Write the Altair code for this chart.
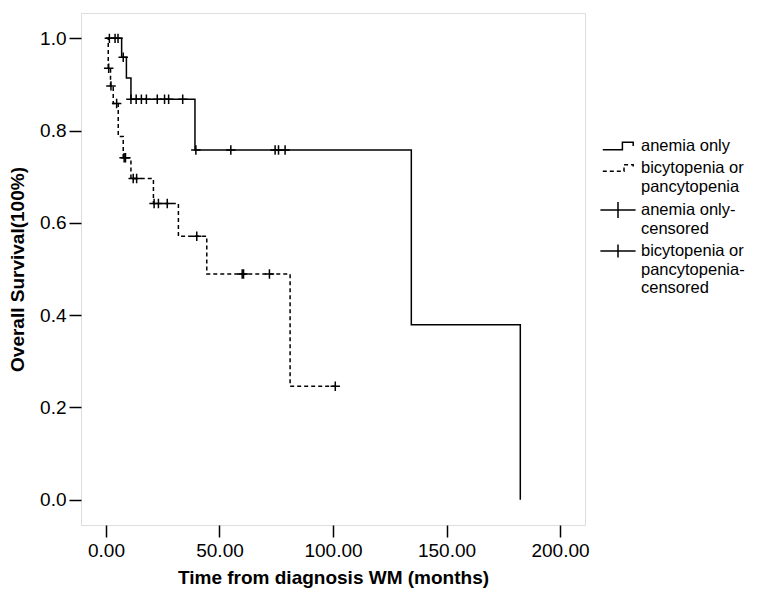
import altair as alt
import pandas as pd

# Kaplan-Meier step curves (time in months, overall survival)
anemia_t = [0, 6.9, 9.0, 11.0, 39.2, 134.5, 182.5]
anemia_s = [1.0, 0.959, 0.914, 0.868, 0.758, 0.379, 0.0]
bicyt_t = [0, 1.0, 2.0, 3.2, 5.4, 7.6, 11.0, 20.9, 31.9, 44.4, 81.1, 101.0]
bicyt_s = [1.0, 0.935, 0.897, 0.859, 0.787, 0.741, 0.696, 0.642, 0.571, 0.489, 0.246, 0.246]

# censored observations
anemia_cens_t = [1.5, 4.0, 5.3, 7.6, 11.0, 13.3, 15.6, 17.8, 22.6, 25.8, 27.6, 33.8,
                 39.6, 55.0, 74.5, 76.0, 78.9]
anemia_cens_s = [1.0, 1.0, 1.0, 0.959, 0.868, 0.868, 0.868, 0.868, 0.868, 0.868, 0.868, 0.868,
                 0.758, 0.758, 0.758, 0.758, 0.758]
bicyt_cens_t = [1.2, 2.2, 4.7, 8.0, 8.6, 12.0, 13.5, 21.2, 23.1, 27.0, 40.0, 60.0, 60.6, 72.0, 101.0]
bicyt_cens_s = [0.935, 0.897, 0.859, 0.741, 0.741, 0.696, 0.696, 0.642, 0.642, 0.642, 0.571,
                0.489, 0.489, 0.489, 0.246]

legend_names = ["anemia only", "bicytopenia or|pancytopenia", "anemia only-|censored",
                "bicytopenia or|pancytopenia-|censored"]
x_ticks = [0, 50, 100, 150, 200]
y_ticks = [0.0, 0.2, 0.4, 0.6, 0.8, 1.0]

FONT = "Liberation Sans"

anemia_df = pd.DataFrame({"t": anemia_t, "s": anemia_s})
bicyt_df = pd.DataFrame({"t": bicyt_t, "s": bicyt_s})
anemia_c = pd.DataFrame({"t": anemia_cens_t, "s": anemia_cens_s})
bicyt_c = pd.DataFrame({"t": bicyt_cens_t, "s": bicyt_cens_s})
legend_df = pd.DataFrame({"series": legend_names})

xscale = alt.Scale(domain=[-11, 211], nice=False, zero=False)
yscale = alt.Scale(domain=[-0.055, 1.055], nice=False, zero=False)

xaxis = alt.Axis(values=x_ticks, format=".2f", title="Time from diagnosis WM (months)",
                 grid=False, domain=False, tickSize=12, tickWidth=1.5, tickColor="black",
                 labelFont=FONT, labelFontSize=19, labelColor="black", labelPadding=4,
                 labelFlush=False, titleFont=FONT, titleFontSize=19, titleFontWeight="bold",
                 titleColor="black", titlePadding=8)
yaxis = alt.Axis(values=y_ticks, format=".1f", title="Overall Survival(100%)",
                 grid=False, domain=False, tickSize=12, tickWidth=1.5, tickColor="black",
                 labelFont=FONT, labelFontSize=19, labelColor="black", labelPadding=3,
                 titleFont=FONT, titleFontSize=19, titleFontWeight="bold",
                 titleColor="black", titlePadding=12)

X = alt.X("t:Q", scale=xscale, axis=xaxis)
Y = alt.Y("s:Q", scale=yscale, axis=yaxis)

line_a = alt.Chart(anemia_df).mark_line(interpolate="step-after", color="black",
                                        strokeWidth=1.5).encode(x=X, y=Y)
line_b = alt.Chart(bicyt_df).mark_line(interpolate="step-after", color="black",
                                       strokeWidth=1.5, strokeDash=[4, 3]).encode(x=X, y=Y)

CROSS = "M-1,0H1M0,-1V1"
cens_a = alt.Chart(anemia_c).mark_point(shape=CROSS, size=90, filled=False, color="black",
                                        strokeWidth=1.5, opacity=1).encode(x=X, y=Y)
cens_b = alt.Chart(bicyt_c).mark_point(shape=CROSS, size=90, filled=False, color="black",
                                       strokeWidth=1.5, opacity=1).encode(x=X, y=Y)

legend_paths = ["M-1.9,0.46H0.55V-0.46H1.9V0",
                "M-1.9,0.42H0.75V-0.42H1.9V0.2",
                "M-2.2,0H2.2M0,-1V1",
                "M-2.2,0H2.2M0,-0.8V0.8"]
legend_dash = [[1, 0], [4, 3], [1, 0], [1, 0]]

leg = alt.Legend(title=None, orient="none", legendX=528, legendY=124, padding=0,
                 labelExpr="split(datum.label, '|')", labelFont=FONT, labelFontSize=16.5,
                 labelColor="black", labelOffset=14, labelLimit=0,
                 rowPadding=4, symbolSize=256, symbolStrokeWidth=1.5,
                 symbolStrokeColor="black", symbolFillColor="transparent")

legend_layer = alt.Chart(legend_df).transform_filter("false").mark_point(
    filled=False, color="black", opacity=1, strokeWidth=1.5
).encode(
    shape=alt.Shape("series:N", scale=alt.Scale(domain=legend_names, range=legend_paths),
                    legend=leg),
    strokeDash=alt.StrokeDash("series:N", scale=alt.Scale(domain=legend_names, range=legend_dash),
                              legend=leg),
)

chart = alt.layer(line_a, line_b, cens_a, cens_b, legend_layer).properties(
    width=504, height=512,
    autosize=alt.AutoSizeParams(type="none"),
    padding={"left": 73, "top": 5, "right": 168, "bottom": 64},
    background="white",
).configure_view(stroke="black", strokeWidth=1.6).configure(font=FONT)

chart.save("out.html", embed_options={"renderer": "svg", "actions": False})
